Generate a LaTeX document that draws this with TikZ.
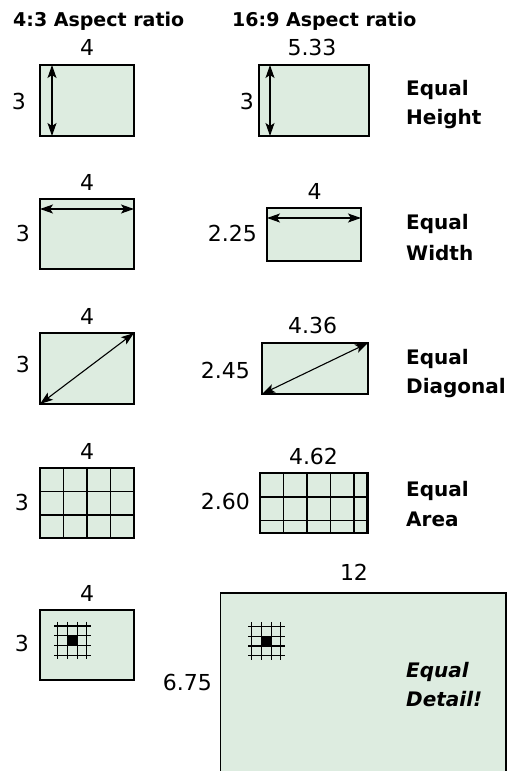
\documentclass[tikz,border=0pt]{standalone}
\usepackage{fontspec}
\setmainfont{DejaVu Sans}
\usetikzlibrary{arrows.meta,calc}
\definecolor{boxfill}{RGB}{221,236,224}
\newcommand\boxat[6][]{\node[box,#1,anchor=north west,minimum width=#5pt,minimum height=#6pt] (#2) at (#3,#4) {};}
\newcommand\minigridat[2]{%
  \begin{scope}[shift={(#1,#2)}]
    \fill[black] (9.7,9.7) rectangle (19.4,19.4);
    \foreach \k in {0,9.7,19.4,29.1}{
      \draw[gridln] (\k,-4.5) -- (\k,33.3);
      \draw[gridln] (-3.5,\k) -- (32.8,\k);
    }
  \end{scope}}
\begin{document}
\begin{tikzpicture}[x=1pt,y=-1pt,
  box/.style={draw=black,line width=1.5pt,fill=boxfill,inner sep=0pt,outer sep=0pt,rectangle},
  dim/.style={line width=1.1pt,{Stealth[length=13pt,width=9pt,inset=3pt]}-{Stealth[length=13pt,width=9pt,inset=3pt]}},
  gridln/.style={line width=1.2pt,black},
  head/.style={font=\fontsize{19}{22}\selectfont\bfseries,inner sep=0pt,anchor=base west},
  num/.style={font=\fontsize{22}{26}\selectfont,inner sep=0pt},
  eq/.style={font=\fontsize{20}{24}\selectfont\bfseries,inner sep=0pt,anchor=base west},
  eqi/.style={font=\fontsize{20}{24}\selectfont\bfseries\itshape,inner sep=0pt,anchor=base west}]
\useasboundingbox (0,0) rectangle (509,771);

% headings
\node[head] (h1) at (13,26) {4:3 Aspect ratio};
\node[head] (h2) at (232,26) {16:9 Aspect ratio};

% row 1: equal height
\boxat{r1l}{40}{65}{94}{71}
\boxat{r1r}{259}{65}{110}{71}
\draw[dim] ($(r1l.north west)+(12,0)$) -- ($(r1l.south west)+(12,0)$);
\draw[dim] ($(r1r.north west)+(11,0)$) -- ($(r1r.south west)+(11,0)$);
\node[num,anchor=base] (w1l) at (87,55) {4};
\node[num,anchor=base] (w1r) at (312,55) {5.33};
\node[num,anchor=base east] (hh1l) at (26,109) {3};
\node[num,anchor=base east] (hh1r) at (254,109) {3};
\node[eq] (e1a) at (406,95) {Equal};
\node[eq] (e1b) at (406,124.5) {Height};

% row 2: equal width
\boxat{r2l}{40}{199}{94}{70}
\boxat{r2r}{267}{208}{94}{53}
\draw[dim] ($(r2l.north west)+(0,10)$) -- ($(r2l.north east)+(0,10)$);
\draw[dim] ($(r2r.north west)+(0,10)$) -- ($(r2r.north east)+(0,10)$);
\node[num,anchor=base] (w2l) at (87,190.7) {4};
\node[num,anchor=base] (w2r) at (314.5,199.3) {4};
\node[num,anchor=base east] (hh2l) at (30,241.7) {3};
\node[num,anchor=base east] (hh2r) at (257,241.7) {2.25};
\node[eq] (e2a) at (406,229) {Equal};
\node[eq] (e2b) at (406,260) {Width};

% row 3: equal diagonal
\boxat{r3l}{40}{333}{94}{71}
\boxat{r3r}{262}{343}{106}{51}
\draw[dim] (r3l.south west) -- (r3l.north east);
\draw[dim] (r3r.south west) -- (r3r.north east);
\node[num,anchor=base] (w3l) at (87,324) {4};
\node[num,anchor=base] (w3r) at (312.7,333.3) {4.36};
\node[num,anchor=base east] (hh3l) at (30,372.7) {3};
\node[num,anchor=base east] (hh3r) at (250,378) {2.45};
\node[eq] (e3a) at (406,364) {Equal};
\node[eq] (e3b) at (406,393) {Diagonal};

% row 4: equal area
\boxat{r4l}{40}{468}{94}{70}
\boxat[line width=2.4pt]{r4r}{260}{473}{107.5}{60}
\foreach \x in {63.5,87,110.5} \draw[gridln] (\x,468) -- (\x,538);
\foreach \y in {491.5,515} \draw[gridln] (40,\y) -- (134,\y);
\foreach \x in {283.5,307,330.5,354} \draw[gridln] (\x,473) -- (\x,533);
\foreach \y in {497,520.5} \draw[gridln] (260,\y) -- (367.5,\y);
\draw[line width=1.5pt] (r4l.north west) rectangle (r4l.south east);
\draw[line width=2.4pt] (r4r.north west) rectangle (r4r.south east);
\node[num,anchor=base] (w4l) at (87,459) {4};
\node[num,anchor=base] (w4r) at (313.5,464) {4.62};
\node[num,anchor=base east] (hh4l) at (29,510) {3};
\node[num,anchor=base east] (hh4r) at (250,509.3) {2.60};
\node[eq] (e4a) at (406,496.5) {Equal};
\node[eq] (e4b) at (406,526) {Area};

% row 5: equal detail
\boxat{r5l}{40}{610}{94}{70}
\boxat{r5r}{220.5}{593}{285.5}{185}
\minigridat{57.7}{626}
\minigridat{251.7}{626.5}
\node[num,anchor=base] (w5l) at (87,601.7) {4};
\node[num,anchor=base] (w5r) at (354,580) {12};
\node[num,anchor=base east] (hh5l) at (29,651.7) {3};
\node[num,anchor=base east] (hh5r) at (212,690) {6.75};
\node[eqi] (e5a) at (406,677.7) {Equal};
\node[eqi] (e5b) at (406,706.7) {Detail!};
\end{tikzpicture}
\end{document}
